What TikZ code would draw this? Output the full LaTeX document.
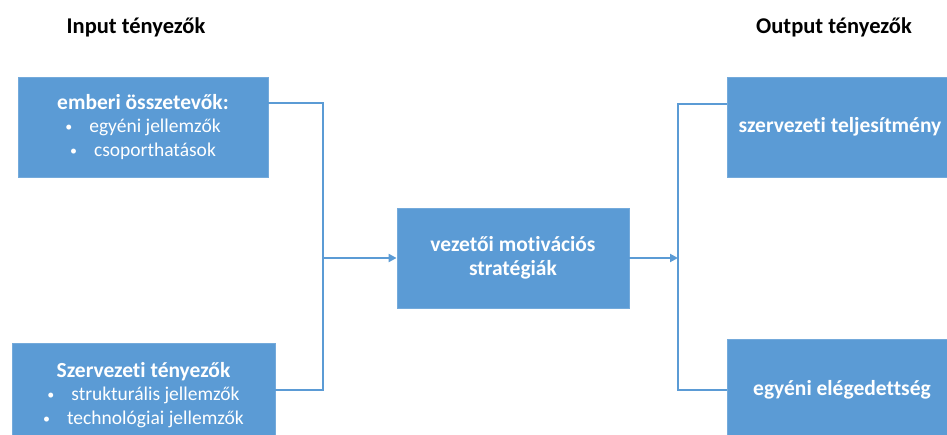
\documentclass[tikz,border=0pt]{standalone}
\usepackage{fontspec}
\setmainfont{Carlito}[Ligatures={NoCommon}]
\usetikzlibrary{arrows.meta}
\definecolor{boxblue}{HTML}{5B9BD5}
\tikzset{
  blk/.style={rectangle, fill=boxblue, draw=boxblue!85!white, line width=0.8pt, inner sep=0pt, text=white, align=center, font=\fontsize{21.5}{23.5}\selectfont},
  bblk/.style={blk, font=\fontsize{21.5}{23.5}\selectfont\bfseries},
  conn/.style={draw=boxblue, line width=2.8pt},
  arr/.style={conn, -{Triangle[length=8pt,width=8pt]}},
  ttl/.style={font=\fontsize{22.5}{24}\selectfont\bfseries, text=black, inner sep=0pt}
}
\newcommand{\bul}[1]{{\fontsize{19.5}{23.5}\selectfont{\fontsize{14}{14}\selectfont\raisebox{1pt}{•}}\hspace{17pt}#1}}
\begin{document}
\begin{tikzpicture}[x=1pt,y=-1pt]
\useasboundingbox (0,0) rectangle (947,435);
\node[ttl] (tin) at (136,27) {Input tényezők};
\node[ttl] (tout) at (834,27) {Output tényezők};
\node[blk, minimum width=250pt, minimum height=100pt] (b1) at (143,127)
  {\textbf{emberi összetevők:}\\ \bul{egyéni jellemzők}\\ \bul{csoporthatások}};
\node[blk, minimum width=263pt, minimum height=104pt] (b2) at (143.5,395)
  {\textbf{Szervezeti tényezők}\\ \bul{strukturális jellemzők}\\ \bul{technológiai jellemzők}};
\node[bblk, minimum width=232pt, minimum height=100pt] (mid) at (513,258)
  {vezetői motivációs\\stratégiák};
\node[bblk, minimum width=240pt, minimum height=100pt] (r1) at (847,127)
  {\hspace*{-14pt}szervezeti teljesítmény};
\node[bblk, minimum width=240pt, minimum height=102pt] (r2) at (847,390)
  {\hspace*{-10pt}egyéni elégedettség};
\coordinate (lt) at (323,103);
\coordinate (lb) at (323,390);
\coordinate (lm) at (323,258);
\coordinate (rt) at (678,104);
\coordinate (rb) at (678,390);
\coordinate (rm) at (678,258);
\draw[conn] (b1.east |- lt) -- (lt) -- (lb) -- (b2.east |- lb);
\draw[arr] (lm) -- (mid.west |- lm);
\draw[conn] (r1.west |- rt) -- (rt) -- (rb) -- (r2.west |- rb);
\draw[arr] (mid.east |- rm) -- (rm);
\end{tikzpicture}
\end{document}
